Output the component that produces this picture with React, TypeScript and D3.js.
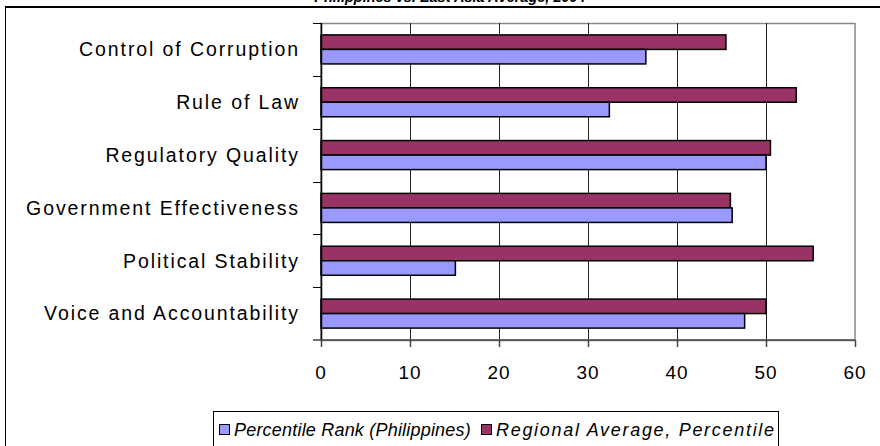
import React from "react";
import * as d3 from "d3";

const categories = [
  "Control of Corruption",
  "Rule of Law",
  "Regulatory Quality",
  "Government Effectiveness",
  "Political Stability",
  "Voice and Accountability",
];
const philippines = [36.5, 32.4, 50.0, 46.2, 15.1, 47.6];
const regional = [45.5, 53.4, 50.5, 46.0, 55.3, 50.0];
const xTicks = [0, 10, 20, 30, 40, 50, 60];
const seriesNames = ["Percentile Rank (Philippines)", "Regional Average, Percentile"];
const titleText = "Philippines vs. East Asia Average, 2004";

const W = 880;
const H = 446;
const plot = { left: 321, right: 855, top: 23, bottom: 340 };
const BLUE = "#9999FF";
const MAROON = "#993366";
const FONT = "'Liberation Sans', Arial, sans-serif";

export default function App() {
  const x = d3.scaleLinear().domain([0, 60]).range([plot.left, plot.right]);
  const y = d3.scaleBand<string>().domain(categories).range([plot.top, plot.bottom]).padding(0);
  const inner = d3
    .scaleBand<string>()
    .domain(["regional", "phil"])
    .range([0, y.step()])
    .paddingInner(0)
    .paddingOuter(0.82);
  const bw = inner.bandwidth();

  return (
    <svg
      width={W}
      height={H}
      style={{ position: "absolute", left: 0, top: 0, background: "#fff" }}
      fontFamily={FONT}
    >
      {/* cut-off title */}
      <text x={450} y={2} textAnchor="middle" fontSize={14.5} fontWeight="bold" fontStyle="italic" fill="#000">
        {titleText}
      </text>
      {/* outer frame */}
      <line x1={5} x2={W} y1={7} y2={7} stroke="#000" strokeWidth={2} />
      <line x1={5.5} x2={5.5} y1={6} y2={H} stroke="#000" strokeWidth={1} />

      {/* plot area border */}
      <rect
        x={plot.left}
        y={plot.top + 0.5}
        width={plot.right - plot.left}
        height={plot.bottom - plot.top}
        fill="none"
        stroke="#888"
        strokeWidth={1.5}
      />
      {/* gridlines */}
      {xTicks.slice(1, -1).map((t) => (
        <line
          key={"g" + t}
          x1={Math.round(x(t)) + 0.5}
          x2={Math.round(x(t)) + 0.5}
          y1={plot.top}
          y2={plot.bottom}
          stroke="#222"
          strokeWidth={1}
        />
      ))}

      {/* bars */}
      {categories.map((c, i) => {
        const y0 = y(c) as number;
        return (
          <g key={c}>
            <rect
              x={x(0)}
              y={y0 + (inner("regional") as number)}
              width={x(regional[i]) - x(0)}
              height={bw}
              fill={MAROON}
              stroke="#000"
              strokeWidth={1.5}
            />
            <rect
              x={x(0)}
              y={y0 + (inner("phil") as number)}
              width={x(philippines[i]) - x(0)}
              height={bw}
              fill={BLUE}
              stroke="#000"
              strokeWidth={1.5}
            />
          </g>
        );
      })}

      {/* y axis */}
      <line x1={plot.left + 0.5} x2={plot.left + 0.5} y1={plot.top} y2={plot.bottom} stroke="#000" strokeWidth={1.5} />
      {categories.map((c) => (
        <line
          key={"yt" + c}
          x1={plot.left - 8}
          x2={plot.left}
          y1={Math.round(y(c) as number) + 0.5}
          y2={Math.round(y(c) as number) + 0.5}
          stroke="#000"
          strokeWidth={1}
        />
      ))}
      <line x1={plot.left - 8} x2={plot.left} y1={plot.bottom} y2={plot.bottom} stroke="#444" strokeWidth={1.5} />
      {categories.map((c) => (
        <text
          key={"yl" + c}
          x={300}
          y={(y(c) as number) + y.bandwidth() / 2}
          dy="0.35em"
          textAnchor="end"
          fontSize={19.5}
          letterSpacing={1.9}
          fill="#000"
        >
          {c}
        </text>
      ))}

      {/* x axis */}
      <line x1={plot.left} x2={plot.right} y1={plot.bottom} y2={plot.bottom} stroke="#444" strokeWidth={1.5} />
      {xTicks.map((t) => (
        <g key={"xt" + t}>
          <line
            x1={Math.round(x(t)) + 0.5}
            x2={Math.round(x(t)) + 0.5}
            y1={plot.bottom}
            y2={plot.bottom + 7}
            stroke="#444"
            strokeWidth={1.5}
          />
          <text x={x(t)} y={379} textAnchor="middle" fontSize={19} letterSpacing={1} fill="#000">
            {t}
          </text>
        </g>
      ))}

      {/* legend */}
      <rect x={213.5} y={411.5} width={565} height={60} fill="#fff" stroke="#000" strokeWidth={1} />
      <rect x={219.5} y={424.5} width={10} height={10} fill={BLUE} stroke="#000" strokeWidth={1} />
      <text x={234} y={436} fontSize={18} fontStyle="italic" letterSpacing={0.2} fill="#000">
        {seriesNames[0]}
      </text>
      <rect x={481.5} y={424.5} width={10} height={10} fill={MAROON} stroke="#000" strokeWidth={1} />
      <text x={496} y={436} fontSize={18} fontStyle="italic" letterSpacing={1.7} fill="#000">
        {seriesNames[1]}
      </text>
    </svg>
  );
}
